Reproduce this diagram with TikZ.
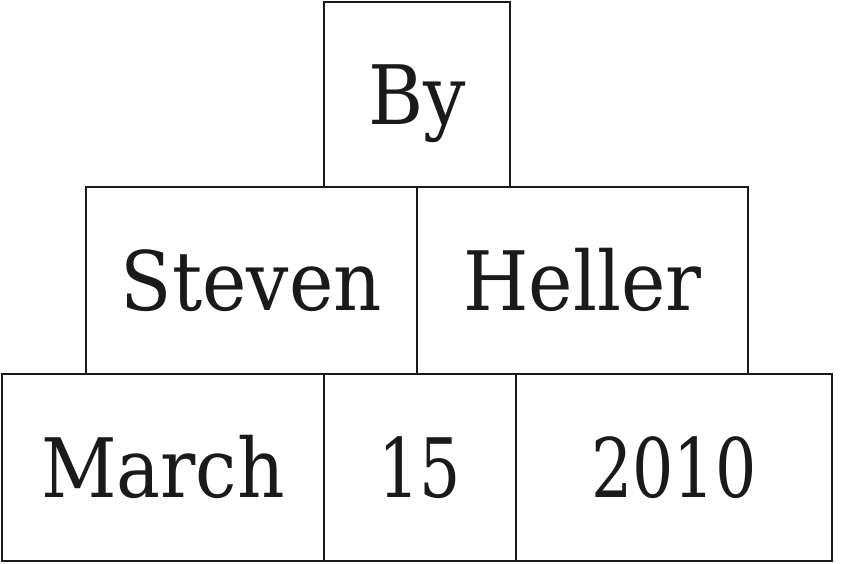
\documentclass[tikz,border=0pt]{standalone}
\usepackage{fontspec}
\usepackage{graphicx}
\setmainfont{DejaVu Serif}
\newfontfamily\condfont{DejaVu Serif Condensed}
\definecolor{ink}{HTML}{1A1A1A}
\newcommand{\wide}[1]{\scalebox{0.915}[1]{#1}}
\newcommand{\digs}[1]{\scalebox{0.88}[1]{\condfont #1}}
\begin{document}
\begin{tikzpicture}[x=1pt,y=-1pt,
  cell/.style={draw=ink, line width=2.3pt, inner sep=0pt, text=ink,
    font=\fontsize{82}{90}\selectfont, text height=60pt, text depth=0pt}]
\useasboundingbox (0,0) rectangle (866,563);
\node[cell, minimum width=186pt, minimum height=185pt] (by) at (417,94.5) {\wide{By}};
\node[cell, minimum width=331pt, minimum height=187pt] (steven) at (251.5,280.5) {\wide{Steven}};
\node[cell, minimum width=331pt, minimum height=187pt] (heller) at (582.5,280.5) {\wide{Heller}};
\node[cell, minimum width=322pt, minimum height=187pt] (march) at (163,467.5) {\condfont March};
\node[cell, minimum width=192pt, minimum height=187pt] (fifteen) at (420,467.5) {\digs{15}};
\node[cell, minimum width=316pt, minimum height=187pt] (year) at (674,467.5) {\digs{2010}};
\end{tikzpicture}
\end{document}
